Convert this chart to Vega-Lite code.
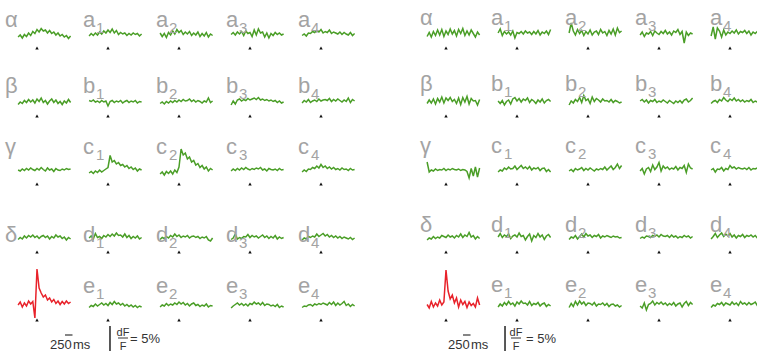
{
"$schema": "https://vega.github.io/schema/vega-lite/v6.json",
"padding": 0,
"autosize": {"type": "pad"},
"config": {"view": {"stroke": null}, "font": "Liberation Sans", "header": {"labels": false, "title": null, "labelPadding": 0, "titlePadding": 0}, "headerRow": {"labels": false, "title": null, "labelPadding": 0}, "headerColumn": {"labels": false, "title": null, "labelPadding": 0}, "headerFacet": {"labels": false, "title": null, "labelPadding": 0}},
"datasets": {
"cells": [
{"k":0,"r":0,"c":0},{"k":1,"r":0,"c":1},{"k":2,"r":0,"c":2},{"k":3,"r":0,"c":3},{"k":4,"r":0,"c":4},
{"k":5,"r":1,"c":0},{"k":6,"r":1,"c":1},{"k":7,"r":1,"c":2},{"k":8,"r":1,"c":3},{"k":9,"r":1,"c":4},
{"k":10,"r":2,"c":0},{"k":11,"r":2,"c":1},{"k":12,"r":2,"c":2},{"k":13,"r":2,"c":3},{"k":14,"r":2,"c":4},
{"k":15,"r":3,"c":0},{"k":16,"r":3,"c":1},{"k":17,"r":3,"c":2},{"k":18,"r":3,"c":3},{"k":19,"r":3,"c":4},
{"k":20,"r":4,"c":0},{"k":21,"r":4,"c":1},{"k":22,"r":4,"c":2},{"k":23,"r":4,"c":3},{"k":24,"r":4,"c":4}
],
"L": [
{"k":0,"lab":"α","sub":"","m":1},{"k":1,"lab":"a","sub":"1","m":1},{"k":2,"lab":"a","sub":"2","m":1},{"k":3,"lab":"a","sub":"3","m":1},{"k":4,"lab":"a","sub":"4","m":1},
{"k":5,"lab":"β","sub":"","m":1},{"k":6,"lab":"b","sub":"1","m":1},{"k":7,"lab":"b","sub":"2","m":1},{"k":8,"lab":"b","sub":"3","m":1},{"k":9,"lab":"b","sub":"4","m":1},
{"k":10,"lab":"γ","sub":"","m":1},{"k":11,"lab":"c","sub":"1","m":1},{"k":12,"lab":"c","sub":"2","m":1},{"k":13,"lab":"c","sub":"3","m":1},{"k":14,"lab":"c","sub":"4","m":1},
{"k":15,"lab":"δ","sub":"","m":1},{"k":16,"lab":"d","sub":"1","m":1},{"k":17,"lab":"d","sub":"2","m":1},{"k":18,"lab":"d","sub":"3","m":1},{"k":19,"lab":"d","sub":"4","m":1},
{"k":20,"lab":"","sub":"","m":1},{"k":21,"lab":"e","sub":"1","m":1},{"k":22,"lab":"e","sub":"2","m":1},{"k":23,"lab":"e","sub":"3","m":1},{"k":24,"lab":"e","sub":"4","m":1},
{"k":0,"t":-630,"v":-0.6},{"k":0,"t":-560,"v":-0.2},{"k":0,"t":-490,"v":-0.8},{"k":0,"t":-420,"v":-0.1},{"k":0,"t":-350,"v":-0.5},{"k":0,"t":-280,"v":0.2},{"k":0,"t":-210,"v":-0.3},{"k":0,"t":-140,"v":0.5},{"k":0,"t":-70,"v":0.1},{"k":0,"t":0,"v":0.9},{"k":0,"t":70,"v":0.4},{"k":0,"t":140,"v":1.1},{"k":0,"t":210,"v":0.6},{"k":0,"t":280,"v":0.8},{"k":0,"t":350,"v":0.2},{"k":0,"t":420,"v":0.7},{"k":0,"t":490,"v":0.1},{"k":0,"t":560,"v":0.4},{"k":0,"t":630,"v":-0.2},{"k":0,"t":700,"v":0.2},{"k":0,"t":770,"v":-0.4},{"k":0,"t":840,"v":-0.1},{"k":0,"t":910,"v":-0.6},{"k":0,"t":980,"v":-0.3},{"k":0,"t":1050,"v":-0.9},{"k":0,"t":1120,"v":-0.4},
{"k":1,"t":-630,"v":-0.4},{"k":1,"t":-560,"v":0.1},{"k":1,"t":-490,"v":-0.3},{"k":1,"t":-420,"v":0.2},{"k":1,"t":-350,"v":-0.2},{"k":1,"t":-280,"v":0.4},{"k":1,"t":-210,"v":0.0},{"k":1,"t":-140,"v":0.6},{"k":1,"t":-70,"v":0.2},{"k":1,"t":0,"v":0.8},{"k":1,"t":70,"v":0.3},{"k":1,"t":140,"v":1.0},{"k":1,"t":210,"v":0.2},{"k":1,"t":280,"v":0.7},{"k":1,"t":350,"v":-0.1},{"k":1,"t":420,"v":0.3},{"k":1,"t":490,"v":0.0},{"k":1,"t":560,"v":0.2},{"k":1,"t":630,"v":-0.3},{"k":1,"t":700,"v":0.1},{"k":1,"t":770,"v":-0.2},{"k":1,"t":840,"v":0.2},{"k":1,"t":910,"v":-0.1},{"k":1,"t":980,"v":0.1},{"k":1,"t":1050,"v":-0.4},{"k":1,"t":1120,"v":0.0},
{"k":2,"t":-630,"v":0.2},{"k":2,"t":-560,"v":-0.5},{"k":2,"t":-490,"v":0.1},{"k":2,"t":-420,"v":-0.7},{"k":2,"t":-350,"v":0.3},{"k":2,"t":-280,"v":-0.2},{"k":2,"t":-210,"v":0.6},{"k":2,"t":-140,"v":0.0},{"k":2,"t":-70,"v":0.9},{"k":2,"t":0,"v":0.3},{"k":2,"t":70,"v":0.7},{"k":2,"t":140,"v":-0.1},{"k":2,"t":210,"v":0.4},{"k":2,"t":280,"v":0.0},{"k":2,"t":350,"v":0.5},{"k":2,"t":420,"v":-0.3},{"k":2,"t":490,"v":0.2},{"k":2,"t":560,"v":-0.2},{"k":2,"t":630,"v":0.4},{"k":2,"t":700,"v":-0.5},{"k":2,"t":770,"v":0.1},{"k":2,"t":840,"v":-0.4},{"k":2,"t":910,"v":0.3},{"k":2,"t":980,"v":-0.6},{"k":2,"t":1050,"v":0.0},{"k":2,"t":1120,"v":-0.3},
{"k":3,"t":-630,"v":-0.1},{"k":3,"t":-560,"v":0.3},{"k":3,"t":-490,"v":-0.2},{"k":3,"t":-420,"v":0.4},{"k":3,"t":-350,"v":0.0},{"k":3,"t":-280,"v":0.5},{"k":3,"t":-210,"v":-0.3},{"k":3,"t":-140,"v":0.6},{"k":3,"t":-70,"v":0.1},{"k":3,"t":0,"v":0.3},{"k":3,"t":70,"v":-0.5},{"k":3,"t":140,"v":0.8},{"k":3,"t":210,"v":-0.2},{"k":3,"t":280,"v":1.0},{"k":3,"t":350,"v":0.2},{"k":3,"t":420,"v":0.4},{"k":3,"t":490,"v":-0.6},{"k":3,"t":560,"v":0.2},{"k":3,"t":630,"v":-0.8},{"k":3,"t":700,"v":0.1},{"k":3,"t":770,"v":-0.3},{"k":3,"t":840,"v":0.3},{"k":3,"t":910,"v":-0.1},{"k":3,"t":980,"v":0.2},{"k":3,"t":1050,"v":-0.2},{"k":3,"t":1120,"v":0.0},
{"k":4,"t":-630,"v":-0.3},{"k":4,"t":-560,"v":0.0},{"k":4,"t":-490,"v":-0.4},{"k":4,"t":-420,"v":0.2},{"k":4,"t":-350,"v":0.1},{"k":4,"t":-280,"v":0.5},{"k":4,"t":-210,"v":0.3},{"k":4,"t":-140,"v":0.7},{"k":4,"t":-70,"v":0.4},{"k":4,"t":0,"v":0.9},{"k":4,"t":70,"v":0.2},{"k":4,"t":140,"v":0.5},{"k":4,"t":210,"v":0.3},{"k":4,"t":280,"v":0.8},{"k":4,"t":350,"v":0.1},{"k":4,"t":420,"v":0.4},{"k":4,"t":490,"v":0.2},{"k":4,"t":560,"v":0.0},{"k":4,"t":630,"v":0.4},{"k":4,"t":700,"v":-0.1},{"k":4,"t":770,"v":0.3},{"k":4,"t":840,"v":0.0},{"k":4,"t":910,"v":-0.2},{"k":4,"t":980,"v":0.3},{"k":4,"t":1050,"v":-0.3},{"k":4,"t":1120,"v":0.1},
{"k":5,"t":-630,"v":-0.5},{"k":5,"t":-560,"v":0.0},{"k":5,"t":-490,"v":-0.3},{"k":5,"t":-420,"v":0.3},{"k":5,"t":-350,"v":-0.1},{"k":5,"t":-280,"v":0.5},{"k":5,"t":-210,"v":0.0},{"k":5,"t":-140,"v":0.4},{"k":5,"t":-70,"v":-0.2},{"k":5,"t":0,"v":0.6},{"k":5,"t":70,"v":0.1},{"k":5,"t":140,"v":0.8},{"k":5,"t":210,"v":-0.1},{"k":5,"t":280,"v":0.3},{"k":5,"t":350,"v":-0.4},{"k":5,"t":420,"v":0.2},{"k":5,"t":490,"v":0.6},{"k":5,"t":560,"v":-0.1},{"k":5,"t":630,"v":0.4},{"k":5,"t":700,"v":-0.3},{"k":5,"t":770,"v":0.1},{"k":5,"t":840,"v":-0.5},{"k":5,"t":910,"v":0.2},{"k":5,"t":980,"v":-0.2},{"k":5,"t":1050,"v":0.5},{"k":5,"t":1120,"v":-0.1},
{"k":6,"t":-630,"v":0.3},{"k":6,"t":-560,"v":0.1},{"k":6,"t":-490,"v":0.4},{"k":6,"t":-420,"v":0.0},{"k":6,"t":-350,"v":0.2},{"k":6,"t":-280,"v":-0.1},{"k":6,"t":-210,"v":0.3},{"k":6,"t":-140,"v":0.0},{"k":6,"t":-70,"v":0.2},{"k":6,"t":0,"v":-0.8},{"k":6,"t":70,"v":0.1},{"k":6,"t":140,"v":0.3},{"k":6,"t":210,"v":-0.1},{"k":6,"t":280,"v":0.2},{"k":6,"t":350,"v":0.0},{"k":6,"t":420,"v":0.3},{"k":6,"t":490,"v":-0.2},{"k":6,"t":560,"v":0.1},{"k":6,"t":630,"v":0.3},{"k":6,"t":700,"v":-0.1},{"k":6,"t":770,"v":0.2},{"k":6,"t":840,"v":0.0},{"k":6,"t":910,"v":0.3},{"k":6,"t":980,"v":-0.2},{"k":6,"t":1050,"v":0.1},{"k":6,"t":1120,"v":0.0},
{"k":7,"t":-630,"v":-0.3},{"k":7,"t":-560,"v":0.0},{"k":7,"t":-490,"v":-0.4},{"k":7,"t":-420,"v":0.1},{"k":7,"t":-350,"v":-0.2},{"k":7,"t":-280,"v":0.2},{"k":7,"t":-210,"v":-0.1},{"k":7,"t":-140,"v":0.3},{"k":7,"t":-70,"v":0.0},{"k":7,"t":0,"v":0.4},{"k":7,"t":70,"v":0.1},{"k":7,"t":140,"v":0.5},{"k":7,"t":210,"v":0.2},{"k":7,"t":280,"v":0.3},{"k":7,"t":350,"v":0.6},{"k":7,"t":420,"v":0.1},{"k":7,"t":490,"v":0.4},{"k":7,"t":560,"v":0.0},{"k":7,"t":630,"v":0.3},{"k":7,"t":700,"v":0.1},{"k":7,"t":770,"v":-0.2},{"k":7,"t":840,"v":0.2},{"k":7,"t":910,"v":0.0},{"k":7,"t":980,"v":0.8},{"k":7,"t":1050,"v":-0.1},{"k":7,"t":1120,"v":0.2},
{"k":8,"t":-630,"v":-0.6},{"k":8,"t":-560,"v":0.2},{"k":8,"t":-490,"v":-0.4},{"k":8,"t":-420,"v":0.4},{"k":8,"t":-350,"v":0.6},{"k":8,"t":-280,"v":0.2},{"k":8,"t":-210,"v":0.5},{"k":8,"t":-140,"v":0.3},{"k":8,"t":-70,"v":0.7},{"k":8,"t":0,"v":0.4},{"k":8,"t":70,"v":0.6},{"k":8,"t":140,"v":0.8},{"k":8,"t":210,"v":0.5},{"k":8,"t":280,"v":0.9},{"k":8,"t":350,"v":0.4},{"k":8,"t":420,"v":0.6},{"k":8,"t":490,"v":0.3},{"k":8,"t":560,"v":0.5},{"k":8,"t":630,"v":0.2},{"k":8,"t":700,"v":0.4},{"k":8,"t":770,"v":0.1},{"k":8,"t":840,"v":0.3},{"k":8,"t":910,"v":-0.1},{"k":8,"t":980,"v":0.2},{"k":8,"t":1050,"v":-0.2},{"k":8,"t":1120,"v":0.0},
{"k":9,"t":-630,"v":-0.2},{"k":9,"t":-560,"v":0.3},{"k":9,"t":-490,"v":0.0},{"k":9,"t":-420,"v":0.5},{"k":9,"t":-350,"v":-0.1},{"k":9,"t":-280,"v":0.2},{"k":9,"t":-210,"v":0.4},{"k":9,"t":-140,"v":0.1},{"k":9,"t":-70,"v":0.6},{"k":9,"t":0,"v":0.2},{"k":9,"t":70,"v":0.4},{"k":9,"t":140,"v":0.5},{"k":9,"t":210,"v":0.3},{"k":9,"t":280,"v":0.7},{"k":9,"t":350,"v":0.1},{"k":9,"t":420,"v":0.5},{"k":9,"t":490,"v":0.2},{"k":9,"t":560,"v":0.6},{"k":9,"t":630,"v":0.3},{"k":9,"t":700,"v":0.0},{"k":9,"t":770,"v":0.4},{"k":9,"t":840,"v":0.1},{"k":9,"t":910,"v":0.8},{"k":9,"t":980,"v":-0.1},{"k":9,"t":1050,"v":0.5},{"k":9,"t":1120,"v":0.2},
{"k":10,"t":-630,"v":0.0},{"k":10,"t":-560,"v":-0.2},{"k":10,"t":-490,"v":0.2},{"k":10,"t":-420,"v":-0.1},{"k":10,"t":-350,"v":0.3},{"k":10,"t":-280,"v":0.0},{"k":10,"t":-210,"v":0.4},{"k":10,"t":-140,"v":0.1},{"k":10,"t":-70,"v":-0.1},{"k":10,"t":0,"v":0.3},{"k":10,"t":70,"v":0.0},{"k":10,"t":140,"v":0.5},{"k":10,"t":210,"v":0.1},{"k":10,"t":280,"v":-0.2},{"k":10,"t":350,"v":0.4},{"k":10,"t":420,"v":0.0},{"k":10,"t":490,"v":0.2},{"k":10,"t":560,"v":-0.3},{"k":10,"t":630,"v":0.3},{"k":10,"t":700,"v":0.0},{"k":10,"t":770,"v":-0.1},{"k":10,"t":840,"v":0.2},{"k":10,"t":910,"v":0.0},{"k":10,"t":980,"v":0.3},{"k":10,"t":1050,"v":0.1},{"k":10,"t":1120,"v":0.2},
{"k":11,"t":-630,"v":-0.6},{"k":11,"t":-560,"v":-0.3},{"k":11,"t":-490,"v":-0.7},{"k":11,"t":-420,"v":-0.2},{"k":11,"t":-350,"v":-0.5},{"k":11,"t":-280,"v":0.0},{"k":11,"t":-210,"v":-0.4},{"k":11,"t":-140,"v":-0.1},{"k":11,"t":-70,"v":0.2},{"k":11,"t":0,"v":0.5},{"k":11,"t":70,"v":2.9},{"k":11,"t":140,"v":1.6},{"k":11,"t":210,"v":1.9},{"k":11,"t":280,"v":1.2},{"k":11,"t":350,"v":1.5},{"k":11,"t":420,"v":0.9},{"k":11,"t":490,"v":1.1},{"k":11,"t":560,"v":0.6},{"k":11,"t":630,"v":0.9},{"k":11,"t":700,"v":0.3},{"k":11,"t":770,"v":0.6},{"k":11,"t":840,"v":0.1},{"k":11,"t":910,"v":0.4},{"k":11,"t":980,"v":-0.2},{"k":11,"t":1050,"v":0.2},{"k":11,"t":1120,"v":0.0},
{"k":12,"t":-630,"v":-0.8},{"k":12,"t":-560,"v":-0.4},{"k":12,"t":-490,"v":-1.0},{"k":12,"t":-420,"v":-0.3},{"k":12,"t":-350,"v":-0.7},{"k":12,"t":-280,"v":-0.2},{"k":12,"t":-210,"v":-0.8},{"k":12,"t":-140,"v":0.0},{"k":12,"t":-70,"v":-0.5},{"k":12,"t":0,"v":0.6},{"k":12,"t":70,"v":4.2},{"k":12,"t":140,"v":3.0},{"k":12,"t":210,"v":3.4},{"k":12,"t":280,"v":2.2},{"k":12,"t":350,"v":2.6},{"k":12,"t":420,"v":1.6},{"k":12,"t":490,"v":1.9},{"k":12,"t":560,"v":1.0},{"k":12,"t":630,"v":1.3},{"k":12,"t":700,"v":0.5},{"k":12,"t":770,"v":0.9},{"k":12,"t":840,"v":0.2},{"k":12,"t":910,"v":0.6},{"k":12,"t":980,"v":-0.2},{"k":12,"t":1050,"v":0.3},{"k":12,"t":1120,"v":0.0},
{"k":13,"t":-630,"v":-0.2},{"k":13,"t":-560,"v":0.2},{"k":13,"t":-490,"v":-0.1},{"k":13,"t":-420,"v":0.3},{"k":13,"t":-350,"v":0.0},{"k":13,"t":-280,"v":0.4},{"k":13,"t":-210,"v":0.1},{"k":13,"t":-140,"v":0.5},{"k":13,"t":-70,"v":0.2},{"k":13,"t":0,"v":0.0},{"k":13,"t":70,"v":0.3},{"k":13,"t":140,"v":0.1},{"k":13,"t":210,"v":0.4},{"k":13,"t":280,"v":0.2},{"k":13,"t":350,"v":0.5},{"k":13,"t":420,"v":0.0},{"k":13,"t":490,"v":0.2},{"k":13,"t":560,"v":-0.2},{"k":13,"t":630,"v":0.3},{"k":13,"t":700,"v":0.1},{"k":13,"t":770,"v":0.0},{"k":13,"t":840,"v":0.2},{"k":13,"t":910,"v":-0.1},{"k":13,"t":980,"v":0.3},{"k":13,"t":1050,"v":0.0},{"k":13,"t":1120,"v":0.1},
{"k":14,"t":-630,"v":-0.4},{"k":14,"t":-560,"v":0.0},{"k":14,"t":-490,"v":-0.3},{"k":14,"t":-420,"v":0.2},{"k":14,"t":-350,"v":0.1},{"k":14,"t":-280,"v":0.5},{"k":14,"t":-210,"v":0.3},{"k":14,"t":-140,"v":0.8},{"k":14,"t":-70,"v":0.4},{"k":14,"t":0,"v":1.1},{"k":14,"t":70,"v":0.5},{"k":14,"t":140,"v":0.8},{"k":14,"t":210,"v":0.3},{"k":14,"t":280,"v":0.6},{"k":14,"t":350,"v":0.2},{"k":14,"t":420,"v":0.5},{"k":14,"t":490,"v":0.1},{"k":14,"t":560,"v":0.3},{"k":14,"t":630,"v":0.0},{"k":14,"t":700,"v":0.4},{"k":14,"t":770,"v":0.1},{"k":14,"t":840,"v":0.2},{"k":14,"t":910,"v":-0.1},{"k":14,"t":980,"v":0.3},{"k":14,"t":1050,"v":0.0},{"k":14,"t":1120,"v":0.1},
{"k":15,"t":-630,"v":-0.3},{"k":15,"t":-560,"v":0.1},{"k":15,"t":-490,"v":-0.2},{"k":15,"t":-420,"v":0.4},{"k":15,"t":-350,"v":0.0},{"k":15,"t":-280,"v":0.5},{"k":15,"t":-210,"v":0.2},{"k":15,"t":-140,"v":0.6},{"k":15,"t":-70,"v":0.1},{"k":15,"t":0,"v":0.4},{"k":15,"t":70,"v":-0.1},{"k":15,"t":140,"v":0.3},{"k":15,"t":210,"v":0.5},{"k":15,"t":280,"v":0.1},{"k":15,"t":350,"v":0.4},{"k":15,"t":420,"v":-0.2},{"k":15,"t":490,"v":0.3},{"k":15,"t":560,"v":0.0},{"k":15,"t":630,"v":0.6},{"k":15,"t":700,"v":0.2},{"k":15,"t":770,"v":0.4},{"k":15,"t":840,"v":-0.1},{"k":15,"t":910,"v":0.2},{"k":15,"t":980,"v":-0.4},{"k":15,"t":1050,"v":0.1},{"k":15,"t":1120,"v":-0.2},
{"k":16,"t":-630,"v":0.0},{"k":16,"t":-560,"v":0.4},{"k":16,"t":-490,"v":-0.2},{"k":16,"t":-420,"v":0.9},{"k":16,"t":-350,"v":0.1},{"k":16,"t":-280,"v":0.3},{"k":16,"t":-210,"v":-0.1},{"k":16,"t":-140,"v":0.5},{"k":16,"t":-70,"v":0.2},{"k":16,"t":0,"v":0.7},{"k":16,"t":70,"v":0.3},{"k":16,"t":140,"v":0.8},{"k":16,"t":210,"v":0.4},{"k":16,"t":280,"v":1.0},{"k":16,"t":350,"v":0.5},{"k":16,"t":420,"v":0.6},{"k":16,"t":490,"v":0.2},{"k":16,"t":560,"v":0.8},{"k":16,"t":630,"v":0.1},{"k":16,"t":700,"v":0.5},{"k":16,"t":770,"v":-0.1},{"k":16,"t":840,"v":0.3},{"k":16,"t":910,"v":0.0},{"k":16,"t":980,"v":0.4},{"k":16,"t":1050,"v":-0.2},{"k":16,"t":1120,"v":0.1},
{"k":17,"t":-630,"v":-0.3},{"k":17,"t":-560,"v":0.1},{"k":17,"t":-490,"v":-0.1},{"k":17,"t":-420,"v":0.3},{"k":17,"t":-350,"v":0.0},{"k":17,"t":-280,"v":0.5},{"k":17,"t":-210,"v":0.2},{"k":17,"t":-140,"v":0.8},{"k":17,"t":-70,"v":0.3},{"k":17,"t":0,"v":0.6},{"k":17,"t":70,"v":0.1},{"k":17,"t":140,"v":0.4},{"k":17,"t":210,"v":0.2},{"k":17,"t":280,"v":0.5},{"k":17,"t":350,"v":0.0},{"k":17,"t":420,"v":0.3},{"k":17,"t":490,"v":0.4},{"k":17,"t":560,"v":0.1},{"k":17,"t":630,"v":0.3},{"k":17,"t":700,"v":-0.1},{"k":17,"t":770,"v":0.2},{"k":17,"t":840,"v":0.0},{"k":17,"t":910,"v":0.3},{"k":17,"t":980,"v":-0.4},{"k":17,"t":1050,"v":-0.6},{"k":17,"t":1120,"v":0.0},
{"k":18,"t":-630,"v":-0.3},{"k":18,"t":-560,"v":0.0},{"k":18,"t":-490,"v":0.8},{"k":18,"t":-420,"v":-0.2},{"k":18,"t":-350,"v":0.1},{"k":18,"t":-280,"v":-0.1},{"k":18,"t":-210,"v":0.3},{"k":18,"t":-140,"v":0.2},{"k":18,"t":-70,"v":0.7},{"k":18,"t":0,"v":0.1},{"k":18,"t":70,"v":0.5},{"k":18,"t":140,"v":0.2},{"k":18,"t":210,"v":0.4},{"k":18,"t":280,"v":0.0},{"k":18,"t":350,"v":0.3},{"k":18,"t":420,"v":0.6},{"k":18,"t":490,"v":0.1},{"k":18,"t":560,"v":0.4},{"k":18,"t":630,"v":-0.1},{"k":18,"t":700,"v":0.3},{"k":18,"t":770,"v":0.0},{"k":18,"t":840,"v":0.5},{"k":18,"t":910,"v":-0.2},{"k":18,"t":980,"v":0.2},{"k":18,"t":1050,"v":-0.1},{"k":18,"t":1120,"v":0.1},
{"k":19,"t":-630,"v":-0.4},{"k":19,"t":-560,"v":0.0},{"k":19,"t":-490,"v":-0.2},{"k":19,"t":-420,"v":0.3},{"k":19,"t":-350,"v":0.1},{"k":19,"t":-280,"v":0.4},{"k":19,"t":-210,"v":0.2},{"k":19,"t":-140,"v":0.8},{"k":19,"t":-70,"v":0.3},{"k":19,"t":0,"v":0.6},{"k":19,"t":70,"v":0.9},{"k":19,"t":140,"v":0.4},{"k":19,"t":210,"v":0.7},{"k":19,"t":280,"v":0.2},{"k":19,"t":350,"v":0.5},{"k":19,"t":420,"v":0.1},{"k":19,"t":490,"v":0.4},{"k":19,"t":560,"v":0.0},{"k":19,"t":630,"v":0.3},{"k":19,"t":700,"v":-0.1},{"k":19,"t":770,"v":0.2},{"k":19,"t":840,"v":0.0},{"k":19,"t":910,"v":-0.2},{"k":19,"t":980,"v":0.1},{"k":19,"t":1050,"v":-0.3},{"k":19,"t":1120,"v":0.0},
{"k":20,"t":-630,"v":0.2},{"k":20,"t":-560,"v":0.8},{"k":20,"t":-490,"v":-0.2},{"k":20,"t":-420,"v":0.6},{"k":20,"t":-350,"v":0.0},{"k":20,"t":-280,"v":1.0},{"k":20,"t":-210,"v":0.4},{"k":20,"t":-140,"v":0.9},{"k":20,"t":-70,"v":-2.4},{"k":20,"t":0,"v":7.4},{"k":20,"t":70,"v":3.6},{"k":20,"t":140,"v":2.6},{"k":20,"t":210,"v":1.8},{"k":20,"t":280,"v":2.2},{"k":20,"t":350,"v":1.2},{"k":20,"t":420,"v":1.6},{"k":20,"t":490,"v":0.8},{"k":20,"t":560,"v":1.3},{"k":20,"t":630,"v":0.5},{"k":20,"t":700,"v":1.0},{"k":20,"t":770,"v":0.3},{"k":20,"t":840,"v":0.9},{"k":20,"t":910,"v":0.4},{"k":20,"t":980,"v":1.0},{"k":20,"t":1050,"v":0.5},{"k":20,"t":1120,"v":0.8},
{"k":21,"t":-630,"v":-0.3},{"k":21,"t":-560,"v":0.1},{"k":21,"t":-490,"v":-0.1},{"k":21,"t":-420,"v":0.4},{"k":21,"t":-350,"v":0.0},{"k":21,"t":-280,"v":0.3},{"k":21,"t":-210,"v":0.6},{"k":21,"t":-140,"v":0.2},{"k":21,"t":-70,"v":0.5},{"k":21,"t":0,"v":0.1},{"k":21,"t":70,"v":0.7},{"k":21,"t":140,"v":0.3},{"k":21,"t":210,"v":0.9},{"k":21,"t":280,"v":0.4},{"k":21,"t":350,"v":0.6},{"k":21,"t":420,"v":0.2},{"k":21,"t":490,"v":0.5},{"k":21,"t":560,"v":0.0},{"k":21,"t":630,"v":0.3},{"k":21,"t":700,"v":-0.1},{"k":21,"t":770,"v":0.2},{"k":21,"t":840,"v":-0.2},{"k":21,"t":910,"v":0.1},{"k":21,"t":980,"v":-0.3},{"k":21,"t":1050,"v":0.0},{"k":21,"t":1120,"v":-0.2},
{"k":22,"t":-630,"v":-0.2},{"k":22,"t":-560,"v":0.2},{"k":22,"t":-490,"v":0.0},{"k":22,"t":-420,"v":0.5},{"k":22,"t":-350,"v":0.1},{"k":22,"t":-280,"v":0.4},{"k":22,"t":-210,"v":0.2},{"k":22,"t":-140,"v":0.6},{"k":22,"t":-70,"v":0.3},{"k":22,"t":0,"v":0.8},{"k":22,"t":70,"v":0.4},{"k":22,"t":140,"v":0.7},{"k":22,"t":210,"v":0.2},{"k":22,"t":280,"v":0.5},{"k":22,"t":350,"v":0.0},{"k":22,"t":420,"v":0.4},{"k":22,"t":490,"v":0.6},{"k":22,"t":560,"v":0.1},{"k":22,"t":630,"v":0.3},{"k":22,"t":700,"v":-0.1},{"k":22,"t":770,"v":0.2},{"k":22,"t":840,"v":0.0},{"k":22,"t":910,"v":0.4},{"k":22,"t":980,"v":-0.2},{"k":22,"t":1050,"v":0.1},{"k":22,"t":1120,"v":0.0},
{"k":23,"t":-630,"v":-0.4},{"k":23,"t":-560,"v":0.0},{"k":23,"t":-490,"v":0.3},{"k":23,"t":-420,"v":0.6},{"k":23,"t":-350,"v":0.2},{"k":23,"t":-280,"v":0.5},{"k":23,"t":-210,"v":0.1},{"k":23,"t":-140,"v":0.4},{"k":23,"t":-70,"v":0.0},{"k":23,"t":0,"v":0.5},{"k":23,"t":70,"v":0.3},{"k":23,"t":140,"v":0.8},{"k":23,"t":210,"v":0.4},{"k":23,"t":280,"v":0.6},{"k":23,"t":350,"v":0.2},{"k":23,"t":420,"v":0.7},{"k":23,"t":490,"v":0.1},{"k":23,"t":560,"v":0.4},{"k":23,"t":630,"v":0.3},{"k":23,"t":700,"v":0.0},{"k":23,"t":770,"v":0.2},{"k":23,"t":840,"v":-0.1},{"k":23,"t":910,"v":0.3},{"k":23,"t":980,"v":-0.3},{"k":23,"t":1050,"v":0.0},{"k":23,"t":1120,"v":-0.2},
{"k":24,"t":-630,"v":-0.3},{"k":24,"t":-560,"v":0.0},{"k":24,"t":-490,"v":-0.1},{"k":24,"t":-420,"v":0.2},{"k":24,"t":-350,"v":0.3},{"k":24,"t":-280,"v":0.0},{"k":24,"t":-210,"v":0.4},{"k":24,"t":-140,"v":0.2},{"k":24,"t":-70,"v":0.5},{"k":24,"t":0,"v":0.3},{"k":24,"t":70,"v":0.6},{"k":24,"t":140,"v":0.4},{"k":24,"t":210,"v":0.2},{"k":24,"t":280,"v":0.7},{"k":24,"t":350,"v":0.3},{"k":24,"t":420,"v":0.8},{"k":24,"t":490,"v":0.1},{"k":24,"t":560,"v":0.6},{"k":24,"t":630,"v":0.2},{"k":24,"t":700,"v":0.5},{"k":24,"t":770,"v":0.9},{"k":24,"t":840,"v":0.1},{"k":24,"t":910,"v":0.4},{"k":24,"t":980,"v":-0.1},{"k":24,"t":1050,"v":0.3},{"k":24,"t":1120,"v":0.0}
],
"R": [
{"k":0,"lab":"α","sub":"","m":1},{"k":1,"lab":"a","sub":"1","m":1},{"k":2,"lab":"a","sub":"2","m":1},{"k":3,"lab":"a","sub":"3","m":1},{"k":4,"lab":"a","sub":"4","m":1},
{"k":5,"lab":"β","sub":"","m":1},{"k":6,"lab":"b","sub":"1","m":1},{"k":7,"lab":"b","sub":"2","m":1},{"k":8,"lab":"b","sub":"3","m":1},{"k":9,"lab":"b","sub":"4","m":1},
{"k":10,"lab":"γ","sub":"","m":1},{"k":11,"lab":"c","sub":"1","m":1},{"k":12,"lab":"c","sub":"2","m":1},{"k":13,"lab":"c","sub":"3","m":1},{"k":14,"lab":"c","sub":"4","m":1},
{"k":15,"lab":"δ","sub":"","m":1},{"k":16,"lab":"d","sub":"1","m":1},{"k":17,"lab":"d","sub":"2","m":1},{"k":18,"lab":"d","sub":"3","m":1},{"k":19,"lab":"d","sub":"4","m":1},
{"k":20,"lab":"","sub":"","m":1},{"k":21,"lab":"e","sub":"1","m":1},{"k":22,"lab":"e","sub":"2","m":1},{"k":23,"lab":"e","sub":"3","m":1},{"k":24,"lab":"e","sub":"4","m":1},
{"k":0,"t":-630,"v":-0.5},{"k":0,"t":-560,"v":0.3},{"k":0,"t":-490,"v":-0.6},{"k":0,"t":-420,"v":0.5},{"k":0,"t":-350,"v":-0.3},{"k":0,"t":-280,"v":0.8},{"k":0,"t":-210,"v":-0.2},{"k":0,"t":-140,"v":0.9},{"k":0,"t":-70,"v":-0.5},{"k":0,"t":0,"v":0.6},{"k":0,"t":70,"v":-0.1},{"k":0,"t":140,"v":1.0},{"k":0,"t":210,"v":0.0},{"k":0,"t":280,"v":0.7},{"k":0,"t":350,"v":-0.4},{"k":0,"t":420,"v":0.9},{"k":0,"t":490,"v":0.1},{"k":0,"t":560,"v":1.1},{"k":0,"t":630,"v":-0.3},{"k":0,"t":700,"v":0.6},{"k":0,"t":770,"v":-0.2},{"k":0,"t":840,"v":0.8},{"k":0,"t":910,"v":0.1},{"k":0,"t":980,"v":-0.6},{"k":0,"t":1050,"v":0.4},{"k":0,"t":1120,"v":-0.2},
{"k":1,"t":-630,"v":0.2},{"k":1,"t":-560,"v":1.0},{"k":1,"t":-490,"v":-0.3},{"k":1,"t":-420,"v":0.5},{"k":1,"t":-350,"v":0.0},{"k":1,"t":-280,"v":0.4},{"k":1,"t":-210,"v":-0.2},{"k":1,"t":-140,"v":0.6},{"k":1,"t":-70,"v":-0.8},{"k":1,"t":0,"v":0.3},{"k":1,"t":70,"v":0.1},{"k":1,"t":140,"v":0.5},{"k":1,"t":210,"v":0.0},{"k":1,"t":280,"v":0.6},{"k":1,"t":350,"v":0.2},{"k":1,"t":420,"v":0.4},{"k":1,"t":490,"v":-0.1},{"k":1,"t":560,"v":0.5},{"k":1,"t":630,"v":0.0},{"k":1,"t":700,"v":0.7},{"k":1,"t":770,"v":-0.2},{"k":1,"t":840,"v":0.4},{"k":1,"t":910,"v":0.1},{"k":1,"t":980,"v":0.6},{"k":1,"t":1050,"v":-0.1},{"k":1,"t":1120,"v":0.9},
{"k":2,"t":-630,"v":0.2},{"k":2,"t":-560,"v":2.2},{"k":2,"t":-490,"v":0.6},{"k":2,"t":-420,"v":-0.2},{"k":2,"t":-350,"v":0.9},{"k":2,"t":-280,"v":0.1},{"k":2,"t":-210,"v":0.7},{"k":2,"t":-140,"v":-0.3},{"k":2,"t":-70,"v":0.5},{"k":2,"t":0,"v":0.0},{"k":2,"t":70,"v":0.8},{"k":2,"t":140,"v":-0.2},{"k":2,"t":210,"v":0.4},{"k":2,"t":280,"v":0.6},{"k":2,"t":350,"v":-0.1},{"k":2,"t":420,"v":0.9},{"k":2,"t":490,"v":0.2},{"k":2,"t":560,"v":0.5},{"k":2,"t":630,"v":-0.3},{"k":2,"t":700,"v":0.7},{"k":2,"t":770,"v":0.0},{"k":2,"t":840,"v":1.0},{"k":2,"t":910,"v":-0.2},{"k":2,"t":980,"v":1.2},{"k":2,"t":1050,"v":0.3},{"k":2,"t":1120,"v":0.6},
{"k":3,"t":-630,"v":-0.2},{"k":3,"t":-560,"v":0.4},{"k":3,"t":-490,"v":-0.5},{"k":3,"t":-420,"v":0.2},{"k":3,"t":-350,"v":0.0},{"k":3,"t":-280,"v":0.5},{"k":3,"t":-210,"v":-0.3},{"k":3,"t":-140,"v":0.6},{"k":3,"t":-70,"v":0.2},{"k":3,"t":0,"v":-0.1},{"k":3,"t":70,"v":0.5},{"k":3,"t":140,"v":0.1},{"k":3,"t":210,"v":0.7},{"k":3,"t":280,"v":0.0},{"k":3,"t":350,"v":0.4},{"k":3,"t":420,"v":-0.2},{"k":3,"t":490,"v":0.6},{"k":3,"t":560,"v":0.3},{"k":3,"t":630,"v":0.9},{"k":3,"t":700,"v":-0.1},{"k":3,"t":770,"v":0.5},{"k":3,"t":840,"v":-1.8},{"k":3,"t":910,"v":0.4},{"k":3,"t":980,"v":-0.3},{"k":3,"t":1050,"v":0.2},{"k":3,"t":1120,"v":0.0},
{"k":4,"t":-630,"v":-0.4},{"k":4,"t":-560,"v":1.4},{"k":4,"t":-490,"v":-1.0},{"k":4,"t":-420,"v":1.2},{"k":4,"t":-350,"v":0.6},{"k":4,"t":-280,"v":-0.6},{"k":4,"t":-210,"v":0.8},{"k":4,"t":-140,"v":-0.2},{"k":4,"t":-70,"v":0.4},{"k":4,"t":0,"v":0.1},{"k":4,"t":70,"v":0.6},{"k":4,"t":140,"v":0.2},{"k":4,"t":210,"v":0.8},{"k":4,"t":280,"v":0.0},{"k":4,"t":350,"v":0.5},{"k":4,"t":420,"v":0.3},{"k":4,"t":490,"v":0.7},{"k":4,"t":560,"v":0.1},{"k":4,"t":630,"v":0.6},{"k":4,"t":700,"v":-0.2},{"k":4,"t":770,"v":0.4},{"k":4,"t":840,"v":0.1},{"k":4,"t":910,"v":0.5},{"k":4,"t":980,"v":-0.1},{"k":4,"t":1050,"v":0.3},{"k":4,"t":1120,"v":0.0},
{"k":5,"t":-630,"v":-0.3},{"k":5,"t":-560,"v":0.4},{"k":5,"t":-490,"v":-0.2},{"k":5,"t":-420,"v":0.6},{"k":5,"t":-350,"v":-0.4},{"k":5,"t":-280,"v":0.7},{"k":5,"t":-210,"v":0.0},{"k":5,"t":-140,"v":1.0},{"k":5,"t":-70,"v":-0.2},{"k":5,"t":0,"v":0.8},{"k":5,"t":70,"v":0.3},{"k":5,"t":140,"v":0.9},{"k":5,"t":210,"v":0.1},{"k":5,"t":280,"v":0.5},{"k":5,"t":350,"v":-0.3},{"k":5,"t":420,"v":0.8},{"k":5,"t":490,"v":-0.5},{"k":5,"t":560,"v":0.9},{"k":5,"t":630,"v":0.0},{"k":5,"t":700,"v":1.1},{"k":5,"t":770,"v":-0.4},{"k":5,"t":840,"v":0.7},{"k":5,"t":910,"v":0.2},{"k":5,"t":980,"v":0.3},{"k":5,"t":1050,"v":-0.6},{"k":5,"t":1120,"v":0.5},
{"k":6,"t":-630,"v":0.2},{"k":6,"t":-560,"v":-0.3},{"k":6,"t":-490,"v":0.3},{"k":6,"t":-420,"v":-0.6},{"k":6,"t":-350,"v":0.1},{"k":6,"t":-280,"v":0.4},{"k":6,"t":-210,"v":-0.4},{"k":6,"t":-140,"v":0.6},{"k":6,"t":-70,"v":0.9},{"k":6,"t":0,"v":0.2},{"k":6,"t":70,"v":0.7},{"k":6,"t":140,"v":0.0},{"k":6,"t":210,"v":0.6},{"k":6,"t":280,"v":0.3},{"k":6,"t":350,"v":0.8},{"k":6,"t":420,"v":-0.1},{"k":6,"t":490,"v":0.5},{"k":6,"t":560,"v":0.2},{"k":6,"t":630,"v":-0.3},{"k":6,"t":700,"v":0.4},{"k":6,"t":770,"v":0.0},{"k":6,"t":840,"v":0.6},{"k":6,"t":910,"v":-0.2},{"k":6,"t":980,"v":0.3},{"k":6,"t":1050,"v":0.5},{"k":6,"t":1120,"v":0.1},
{"k":7,"t":-630,"v":-0.6},{"k":7,"t":-560,"v":0.2},{"k":7,"t":-490,"v":-0.2},{"k":7,"t":-420,"v":0.5},{"k":7,"t":-350,"v":0.1},{"k":7,"t":-280,"v":0.9},{"k":7,"t":-210,"v":-0.1},{"k":7,"t":-140,"v":1.3},{"k":7,"t":-70,"v":0.3},{"k":7,"t":0,"v":0.6},{"k":7,"t":70,"v":-0.3},{"k":7,"t":140,"v":1.0},{"k":7,"t":210,"v":0.1},{"k":7,"t":280,"v":0.7},{"k":7,"t":350,"v":0.4},{"k":7,"t":420,"v":0.0},{"k":7,"t":490,"v":0.6},{"k":7,"t":560,"v":0.2},{"k":7,"t":630,"v":0.3},{"k":7,"t":700,"v":0.0},{"k":7,"t":770,"v":0.5},{"k":7,"t":840,"v":-0.1},{"k":7,"t":910,"v":0.3},{"k":7,"t":980,"v":0.1},{"k":7,"t":1050,"v":-0.2},{"k":7,"t":1120,"v":0.0},
{"k":8,"t":-630,"v":0.2},{"k":8,"t":-560,"v":0.5},{"k":8,"t":-490,"v":0.0},{"k":8,"t":-420,"v":0.4},{"k":8,"t":-350,"v":-0.2},{"k":8,"t":-280,"v":0.3},{"k":8,"t":-210,"v":0.1},{"k":8,"t":-140,"v":0.5},{"k":8,"t":-70,"v":-0.1},{"k":8,"t":0,"v":0.2},{"k":8,"t":70,"v":0.0},{"k":8,"t":140,"v":0.4},{"k":8,"t":210,"v":0.1},{"k":8,"t":280,"v":-0.2},{"k":8,"t":350,"v":0.3},{"k":8,"t":420,"v":0.0},{"k":8,"t":490,"v":-0.3},{"k":8,"t":560,"v":0.2},{"k":8,"t":630,"v":-0.1},{"k":8,"t":700,"v":0.3},{"k":8,"t":770,"v":-0.2},{"k":8,"t":840,"v":0.4},{"k":8,"t":910,"v":0.6},{"k":8,"t":980,"v":0.0},{"k":8,"t":1050,"v":0.3},{"k":8,"t":1120,"v":0.8},
{"k":9,"t":-630,"v":-0.3},{"k":9,"t":-560,"v":0.1},{"k":9,"t":-490,"v":0.3},{"k":9,"t":-420,"v":-0.1},{"k":9,"t":-350,"v":0.5},{"k":9,"t":-280,"v":0.2},{"k":9,"t":-210,"v":0.9},{"k":9,"t":-140,"v":0.4},{"k":9,"t":-70,"v":0.1},{"k":9,"t":0,"v":0.6},{"k":9,"t":70,"v":0.3},{"k":9,"t":140,"v":0.8},{"k":9,"t":210,"v":0.2},{"k":9,"t":280,"v":0.5},{"k":9,"t":350,"v":0.1},{"k":9,"t":420,"v":0.4},{"k":9,"t":490,"v":0.0},{"k":9,"t":560,"v":0.3},{"k":9,"t":630,"v":0.1},{"k":9,"t":700,"v":0.5},{"k":9,"t":770,"v":-0.1},{"k":9,"t":840,"v":0.2},{"k":9,"t":910,"v":0.0},{"k":9,"t":980,"v":0.4},{"k":9,"t":1050,"v":-0.2},{"k":9,"t":1120,"v":0.1},
{"k":10,"t":-630,"v":1.6},{"k":10,"t":-560,"v":-0.4},{"k":10,"t":-490,"v":0.0},{"k":10,"t":-420,"v":-0.2},{"k":10,"t":-350,"v":0.2},{"k":10,"t":-280,"v":-0.1},{"k":10,"t":-210,"v":0.1},{"k":10,"t":-140,"v":0.0},{"k":10,"t":-70,"v":0.3},{"k":10,"t":0,"v":-0.1},{"k":10,"t":70,"v":0.2},{"k":10,"t":140,"v":0.0},{"k":10,"t":210,"v":0.3},{"k":10,"t":280,"v":0.1},{"k":10,"t":350,"v":0.0},{"k":10,"t":420,"v":0.2},{"k":10,"t":490,"v":-0.1},{"k":10,"t":560,"v":0.1},{"k":10,"t":630,"v":0.0},{"k":10,"t":700,"v":-0.3},{"k":10,"t":770,"v":-1.6},{"k":10,"t":840,"v":0.3},{"k":10,"t":910,"v":-1.2},{"k":10,"t":980,"v":0.6},{"k":10,"t":1050,"v":-1.4},{"k":10,"t":1120,"v":0.4},
{"k":11,"t":-630,"v":-0.4},{"k":11,"t":-560,"v":0.0},{"k":11,"t":-490,"v":-0.2},{"k":11,"t":-420,"v":0.4},{"k":11,"t":-350,"v":0.1},{"k":11,"t":-280,"v":0.6},{"k":11,"t":-210,"v":0.2},{"k":11,"t":-140,"v":0.3},{"k":11,"t":-70,"v":0.8},{"k":11,"t":0,"v":0.1},{"k":11,"t":70,"v":0.5},{"k":11,"t":140,"v":0.9},{"k":11,"t":210,"v":0.3},{"k":11,"t":280,"v":0.6},{"k":11,"t":350,"v":0.2},{"k":11,"t":420,"v":0.7},{"k":11,"t":490,"v":0.0},{"k":11,"t":560,"v":0.4},{"k":11,"t":630,"v":0.2},{"k":11,"t":700,"v":0.5},{"k":11,"t":770,"v":-0.1},{"k":11,"t":840,"v":0.3},{"k":11,"t":910,"v":0.4},{"k":11,"t":980,"v":-0.3},{"k":11,"t":1050,"v":0.1},{"k":11,"t":1120,"v":-0.4},
{"k":12,"t":-630,"v":-0.2},{"k":12,"t":-560,"v":0.1},{"k":12,"t":-490,"v":-0.3},{"k":12,"t":-420,"v":0.3},{"k":12,"t":-350,"v":0.0},{"k":12,"t":-280,"v":0.2},{"k":12,"t":-210,"v":0.5},{"k":12,"t":-140,"v":-0.1},{"k":12,"t":-70,"v":0.3},{"k":12,"t":0,"v":0.0},{"k":12,"t":70,"v":0.4},{"k":12,"t":140,"v":0.1},{"k":12,"t":210,"v":-0.2},{"k":12,"t":280,"v":0.2},{"k":12,"t":350,"v":0.0},{"k":12,"t":420,"v":0.3},{"k":12,"t":490,"v":0.1},{"k":12,"t":560,"v":0.6},{"k":12,"t":630,"v":0.0},{"k":12,"t":700,"v":0.4},{"k":12,"t":770,"v":0.8},{"k":12,"t":840,"v":0.1},{"k":12,"t":910,"v":0.5},{"k":12,"t":980,"v":1.2},{"k":12,"t":1050,"v":0.3},{"k":12,"t":1120,"v":0.9},
{"k":13,"t":-630,"v":-0.2},{"k":13,"t":-560,"v":0.3},{"k":13,"t":-490,"v":-0.8},{"k":13,"t":-420,"v":0.2},{"k":13,"t":-350,"v":0.5},{"k":13,"t":-280,"v":-0.3},{"k":13,"t":-210,"v":1.0},{"k":13,"t":-140,"v":0.1},{"k":13,"t":-70,"v":0.6},{"k":13,"t":0,"v":1.5},{"k":13,"t":70,"v":-0.2},{"k":13,"t":140,"v":0.8},{"k":13,"t":210,"v":0.3},{"k":13,"t":280,"v":0.6},{"k":13,"t":350,"v":0.1},{"k":13,"t":420,"v":0.4},{"k":13,"t":490,"v":0.2},{"k":13,"t":560,"v":0.7},{"k":13,"t":630,"v":0.0},{"k":13,"t":700,"v":0.5},{"k":13,"t":770,"v":0.3},{"k":13,"t":840,"v":0.9},{"k":13,"t":910,"v":-0.5},{"k":13,"t":980,"v":1.2},{"k":13,"t":1050,"v":0.4},{"k":13,"t":1120,"v":0.2},
{"k":14,"t":-630,"v":0.0},{"k":14,"t":-560,"v":0.3},{"k":14,"t":-490,"v":-0.4},{"k":14,"t":-420,"v":0.2},{"k":14,"t":-350,"v":0.1},{"k":14,"t":-280,"v":0.5},{"k":14,"t":-210,"v":-0.2},{"k":14,"t":-140,"v":0.3},{"k":14,"t":-70,"v":0.1},{"k":14,"t":0,"v":0.9},{"k":14,"t":70,"v":0.4},{"k":14,"t":140,"v":0.6},{"k":14,"t":210,"v":0.2},{"k":14,"t":280,"v":0.5},{"k":14,"t":350,"v":0.3},{"k":14,"t":420,"v":0.2},{"k":14,"t":490,"v":0.4},{"k":14,"t":560,"v":0.1},{"k":14,"t":630,"v":0.5},{"k":14,"t":700,"v":0.0},{"k":14,"t":770,"v":0.3},{"k":14,"t":840,"v":0.2},{"k":14,"t":910,"v":0.4},{"k":14,"t":980,"v":-0.1},{"k":14,"t":1050,"v":0.2},{"k":14,"t":1120,"v":0.0},
{"k":15,"t":-630,"v":-0.4},{"k":15,"t":-560,"v":0.0},{"k":15,"t":-490,"v":-0.2},{"k":15,"t":-420,"v":0.3},{"k":15,"t":-350,"v":-0.1},{"k":15,"t":-280,"v":0.2},{"k":15,"t":-210,"v":0.0},{"k":15,"t":-140,"v":0.5},{"k":15,"t":-70,"v":0.3},{"k":15,"t":0,"v":0.1},{"k":15,"t":70,"v":0.6},{"k":15,"t":140,"v":0.2},{"k":15,"t":210,"v":0.4},{"k":15,"t":280,"v":0.0},{"k":15,"t":350,"v":0.5},{"k":15,"t":420,"v":0.2},{"k":15,"t":490,"v":0.8},{"k":15,"t":560,"v":0.1},{"k":15,"t":630,"v":0.6},{"k":15,"t":700,"v":0.3},{"k":15,"t":770,"v":1.1},{"k":15,"t":840,"v":0.2},{"k":15,"t":910,"v":0.5},{"k":15,"t":980,"v":-0.2},{"k":15,"t":1050,"v":0.3},{"k":15,"t":1120,"v":-0.1},
{"k":16,"t":-630,"v":0.2},{"k":16,"t":-560,"v":0.9},{"k":16,"t":-490,"v":0.1},{"k":16,"t":-420,"v":0.6},{"k":16,"t":-350,"v":0.3},{"k":16,"t":-280,"v":0.8},{"k":16,"t":-210,"v":-0.1},{"k":16,"t":-140,"v":0.4},{"k":16,"t":-70,"v":0.6},{"k":16,"t":0,"v":0.2},{"k":16,"t":70,"v":1.0},{"k":16,"t":140,"v":0.3},{"k":16,"t":210,"v":0.5},{"k":16,"t":280,"v":-0.4},{"k":16,"t":350,"v":0.3},{"k":16,"t":420,"v":0.8},{"k":16,"t":490,"v":-0.6},{"k":16,"t":560,"v":0.5},{"k":16,"t":630,"v":0.1},{"k":16,"t":700,"v":0.9},{"k":16,"t":770,"v":0.2},{"k":16,"t":840,"v":0.6},{"k":16,"t":910,"v":-0.3},{"k":16,"t":980,"v":0.4},{"k":16,"t":1050,"v":0.7},{"k":16,"t":1120,"v":0.1},
{"k":17,"t":-630,"v":-0.3},{"k":17,"t":-560,"v":0.2},{"k":17,"t":-490,"v":0.0},{"k":17,"t":-420,"v":0.5},{"k":17,"t":-350,"v":-0.2},{"k":17,"t":-280,"v":0.3},{"k":17,"t":-210,"v":0.8},{"k":17,"t":-140,"v":0.2},{"k":17,"t":-70,"v":0.9},{"k":17,"t":0,"v":0.4},{"k":17,"t":70,"v":0.6},{"k":17,"t":140,"v":0.1},{"k":17,"t":210,"v":0.5},{"k":17,"t":280,"v":0.3},{"k":17,"t":350,"v":0.7},{"k":17,"t":420,"v":0.0},{"k":17,"t":490,"v":0.4},{"k":17,"t":560,"v":0.2},{"k":17,"t":630,"v":0.5},{"k":17,"t":700,"v":0.3},{"k":17,"t":770,"v":0.1},{"k":17,"t":840,"v":0.4},{"k":17,"t":910,"v":0.2},{"k":17,"t":980,"v":0.3},{"k":17,"t":1050,"v":0.0},{"k":17,"t":1120,"v":0.1},
{"k":18,"t":-630,"v":-0.1},{"k":18,"t":-560,"v":0.2},{"k":18,"t":-490,"v":0.0},{"k":18,"t":-420,"v":0.4},{"k":18,"t":-350,"v":0.3},{"k":18,"t":-280,"v":0.1},{"k":18,"t":-210,"v":0.5},{"k":18,"t":-140,"v":0.3},{"k":18,"t":-70,"v":0.6},{"k":18,"t":0,"v":0.2},{"k":18,"t":70,"v":0.7},{"k":18,"t":140,"v":0.4},{"k":18,"t":210,"v":0.3},{"k":18,"t":280,"v":0.5},{"k":18,"t":350,"v":0.1},{"k":18,"t":420,"v":0.6},{"k":18,"t":490,"v":0.2},{"k":18,"t":560,"v":0.4},{"k":18,"t":630,"v":0.0},{"k":18,"t":700,"v":0.3},{"k":18,"t":770,"v":0.1},{"k":18,"t":840,"v":0.5},{"k":18,"t":910,"v":0.2},{"k":18,"t":980,"v":0.4},{"k":18,"t":1050,"v":0.0},{"k":18,"t":1120,"v":0.3},
{"k":19,"t":-630,"v":-0.2},{"k":19,"t":-560,"v":0.3},{"k":19,"t":-490,"v":0.9},{"k":19,"t":-420,"v":0.1},{"k":19,"t":-350,"v":0.6},{"k":19,"t":-280,"v":1.0},{"k":19,"t":-210,"v":0.3},{"k":19,"t":-140,"v":0.8},{"k":19,"t":-70,"v":0.4},{"k":19,"t":0,"v":0.9},{"k":19,"t":70,"v":0.2},{"k":19,"t":140,"v":0.6},{"k":19,"t":210,"v":0.0},{"k":19,"t":280,"v":0.5},{"k":19,"t":350,"v":0.3},{"k":19,"t":420,"v":0.7},{"k":19,"t":490,"v":0.1},{"k":19,"t":560,"v":0.5},{"k":19,"t":630,"v":0.3},{"k":19,"t":700,"v":0.6},{"k":19,"t":770,"v":0.2},{"k":19,"t":840,"v":0.5},{"k":19,"t":910,"v":0.0},{"k":19,"t":980,"v":0.4},{"k":19,"t":1050,"v":0.1},{"k":19,"t":1120,"v":0.3},
{"k":20,"t":-630,"v":0.3},{"k":20,"t":-560,"v":-0.4},{"k":20,"t":-490,"v":0.9},{"k":20,"t":-420,"v":-0.2},{"k":20,"t":-350,"v":0.6},{"k":20,"t":-280,"v":0.0},{"k":20,"t":-210,"v":1.2},{"k":20,"t":-140,"v":0.2},{"k":20,"t":-70,"v":0.8},{"k":20,"t":0,"v":7.2},{"k":20,"t":70,"v":3.0},{"k":20,"t":140,"v":1.4},{"k":20,"t":210,"v":2.2},{"k":20,"t":280,"v":0.6},{"k":20,"t":350,"v":1.6},{"k":20,"t":420,"v":-0.2},{"k":20,"t":490,"v":1.2},{"k":20,"t":560,"v":0.3},{"k":20,"t":630,"v":0.9},{"k":20,"t":700,"v":-0.3},{"k":20,"t":770,"v":0.8},{"k":20,"t":840,"v":0.1},{"k":20,"t":910,"v":0.5},{"k":20,"t":980,"v":-0.2},{"k":20,"t":1050,"v":1.6},{"k":20,"t":1120,"v":0.2},
{"k":21,"t":-630,"v":-0.2},{"k":21,"t":-560,"v":0.4},{"k":21,"t":-490,"v":0.0},{"k":21,"t":-420,"v":0.7},{"k":21,"t":-350,"v":0.2},{"k":21,"t":-280,"v":0.9},{"k":21,"t":-210,"v":0.3},{"k":21,"t":-140,"v":0.6},{"k":21,"t":-70,"v":0.0},{"k":21,"t":0,"v":0.8},{"k":21,"t":70,"v":0.4},{"k":21,"t":140,"v":1.0},{"k":21,"t":210,"v":0.5},{"k":21,"t":280,"v":0.6},{"k":21,"t":350,"v":0.2},{"k":21,"t":420,"v":0.9},{"k":21,"t":490,"v":0.1},{"k":21,"t":560,"v":0.5},{"k":21,"t":630,"v":0.3},{"k":21,"t":700,"v":0.7},{"k":21,"t":770,"v":0.0},{"k":21,"t":840,"v":0.4},{"k":21,"t":910,"v":0.6},{"k":21,"t":980,"v":-0.1},{"k":21,"t":1050,"v":0.3},{"k":21,"t":1120,"v":0.0},
{"k":22,"t":-630,"v":-0.3},{"k":22,"t":-560,"v":0.5},{"k":22,"t":-490,"v":-0.1},{"k":22,"t":-420,"v":0.9},{"k":22,"t":-350,"v":0.2},{"k":22,"t":-280,"v":1.0},{"k":22,"t":-210,"v":0.4},{"k":22,"t":-140,"v":0.8},{"k":22,"t":-70,"v":0.1},{"k":22,"t":0,"v":0.6},{"k":22,"t":70,"v":0.5},{"k":22,"t":140,"v":0.2},{"k":22,"t":210,"v":0.7},{"k":22,"t":280,"v":0.0},{"k":22,"t":350,"v":0.4},{"k":22,"t":420,"v":0.3},{"k":22,"t":490,"v":0.6},{"k":22,"t":560,"v":0.1},{"k":22,"t":630,"v":0.5},{"k":22,"t":700,"v":-0.1},{"k":22,"t":770,"v":0.3},{"k":22,"t":840,"v":0.4},{"k":22,"t":910,"v":0.0},{"k":22,"t":980,"v":0.2},{"k":22,"t":1050,"v":-0.2},{"k":22,"t":1120,"v":0.1},
{"k":23,"t":-630,"v":0.0},{"k":23,"t":-560,"v":-0.4},{"k":23,"t":-490,"v":0.6},{"k":23,"t":-420,"v":-0.8},{"k":23,"t":-350,"v":0.3},{"k":23,"t":-280,"v":0.5},{"k":23,"t":-210,"v":1.0},{"k":23,"t":-140,"v":0.2},{"k":23,"t":-70,"v":0.7},{"k":23,"t":0,"v":0.4},{"k":23,"t":70,"v":0.8},{"k":23,"t":140,"v":0.3},{"k":23,"t":210,"v":0.6},{"k":23,"t":280,"v":0.1},{"k":23,"t":350,"v":0.5},{"k":23,"t":420,"v":0.2},{"k":23,"t":490,"v":0.7},{"k":23,"t":560,"v":0.0},{"k":23,"t":630,"v":0.4},{"k":23,"t":700,"v":0.6},{"k":23,"t":770,"v":-0.2},{"k":23,"t":840,"v":0.5},{"k":23,"t":910,"v":0.9},{"k":23,"t":980,"v":0.1},{"k":23,"t":1050,"v":0.7},{"k":23,"t":1120,"v":0.3},
{"k":24,"t":-630,"v":-0.3},{"k":24,"t":-560,"v":0.2},{"k":24,"t":-490,"v":0.0},{"k":24,"t":-420,"v":0.5},{"k":24,"t":-350,"v":0.3},{"k":24,"t":-280,"v":0.7},{"k":24,"t":-210,"v":0.1},{"k":24,"t":-140,"v":0.6},{"k":24,"t":-70,"v":0.4},{"k":24,"t":0,"v":0.2},{"k":24,"t":70,"v":0.8},{"k":24,"t":140,"v":0.3},{"k":24,"t":210,"v":0.6},{"k":24,"t":280,"v":0.1},{"k":24,"t":350,"v":0.9},{"k":24,"t":420,"v":0.4},{"k":24,"t":490,"v":0.6},{"k":24,"t":560,"v":0.2},{"k":24,"t":630,"v":0.7},{"k":24,"t":700,"v":0.3},{"k":24,"t":770,"v":0.5},{"k":24,"t":840,"v":0.8},{"k":24,"t":910,"v":0.1},{"k":24,"t":980,"v":0.4},{"k":24,"t":1050,"v":0.2},{"k":24,"t":1120,"v":0.5}
]
},
"hconcat": [
{
"data": {"name": "L"},
"transform": [{"lookup": "k", "from": {"data": {"name": "cells"}, "key": "k", "fields": ["r", "c"]}}],
"facet": {"row": {"field": "r", "type": "ordinal", "header": null}, "column": {"field": "c", "type": "ordinal", "header": null}},
"spacing": {"row": 0, "column": 0},
"bounds": "flush",
"spec": {
"width": 71, "height": 67.5,
"resolve": {"scale": {"x": "independent", "y": "independent"}},
"layer": [
{"layer": [
{"transform": [{"filter": "isValid(datum.v)"}], "mark": {"type": "line", "strokeWidth": 1.5},
 "encoding": {"x": {"field": "t", "type": "quantitative", "scale": {"domain": [-1233.3, 1133.3], "nice": false, "zero": false}, "axis": null},
  "y": {"field": "v", "type": "quantitative", "scale": {"domain": [-6.7, 6.8], "nice": false, "zero": false}, "axis": null},
  "color": {"condition": {"test": "datum.k == 20", "value": "#e8222a"}, "value": "#4a9e27"}}},
{"transform": [{"filter": "datum.m == 1"}], "mark": {"type": "point", "shape": "triangle-up", "filled": true, "color": "#111111", "size": 12, "opacity": 1},
 "encoding": {"x": {"datum": 0, "type": "quantitative", "scale": {"domain": [-1233.3, 1133.3], "nice": false, "zero": false}, "axis": null},
  "y": {"datum": -2.8, "type": "quantitative", "scale": {"domain": [-6.7, 6.8], "nice": false, "zero": false}, "axis": null}}},
{"transform": [{"filter": "datum.k == 20 && datum.m == 1"}], "mark": {"type": "rule", "color": "#333333", "strokeWidth": 1.2},
 "encoding": {"x": {"datum": 933, "type": "quantitative", "scale": {"domain": [-1233.3, 1133.3], "nice": false, "zero": false}, "axis": null}, "x2": {"datum": 1183},
  "y": {"datum": -5.8, "type": "quantitative", "scale": {"domain": [-6.7, 6.8], "nice": false, "zero": false}, "axis": null}}},
{"transform": [{"filter": "datum.k == 20 && datum.m == 1"}], "mark": {"type": "rule", "color": "#222222", "strokeWidth": 1.5},
 "encoding": {"x": {"datum": 2433, "type": "quantitative", "scale": {"domain": [-1233.3, 1133.3], "nice": false, "zero": false}, "axis": null},
  "y": {"datum": -4, "type": "quantitative", "scale": {"domain": [-6.7, 6.8], "nice": false, "zero": false}, "axis": null}, "y2": {"datum": -9}}},
{"transform": [{"filter": "datum.k == 20 && datum.m == 1"}], "mark": {"type": "rule", "color": "#333333", "strokeWidth": 1},
 "encoding": {"x": {"datum": 2700, "type": "quantitative", "scale": {"domain": [-1233.3, 1133.3], "nice": false, "zero": false}, "axis": null}, "x2": {"datum": 3033},
  "y": {"datum": -6.4, "type": "quantitative", "scale": {"domain": [-6.7, 6.8], "nice": false, "zero": false}, "axis": null}}},
{"transform": [{"filter": "datum.k == 20 && datum.m == 1"}], "mark": {"type": "text", "text": "250", "fontSize": 13, "align": "left", "baseline": "alphabetic", "color": "#333333"},
 "encoding": {"x": {"datum": 433, "type": "quantitative", "scale": {"domain": [-1233.3, 1133.3], "nice": false, "zero": false}, "axis": null},
  "y": {"datum": -8.6, "type": "quantitative", "scale": {"domain": [-6.7, 6.8], "nice": false, "zero": false}, "axis": null}}},
{"transform": [{"filter": "datum.k == 20 && datum.m == 1"}], "mark": {"type": "text", "text": "ms", "fontSize": 13, "align": "left", "baseline": "alphabetic", "color": "#333333"},
 "encoding": {"x": {"datum": 1200, "type": "quantitative", "scale": {"domain": [-1233.3, 1133.3], "nice": false, "zero": false}, "axis": null},
  "y": {"datum": -8.6, "type": "quantitative", "scale": {"domain": [-6.7, 6.8], "nice": false, "zero": false}, "axis": null}}},
{"transform": [{"filter": "datum.k == 20 && datum.m == 1"}], "mark": {"type": "text", "text": "dF", "fontSize": 11, "align": "center", "baseline": "alphabetic", "color": "#333333"},
 "encoding": {"x": {"datum": 2867, "type": "quantitative", "scale": {"domain": [-1233.3, 1133.3], "nice": false, "zero": false}, "axis": null},
  "y": {"datum": -6.0, "type": "quantitative", "scale": {"domain": [-6.7, 6.8], "nice": false, "zero": false}, "axis": null}}},
{"transform": [{"filter": "datum.k == 20 && datum.m == 1"}], "mark": {"type": "text", "text": "F", "fontSize": 11, "align": "center", "baseline": "alphabetic", "color": "#333333"},
 "encoding": {"x": {"datum": 2867, "type": "quantitative", "scale": {"domain": [-1233.3, 1133.3], "nice": false, "zero": false}, "axis": null},
  "y": {"datum": -8.8, "type": "quantitative", "scale": {"domain": [-6.7, 6.8], "nice": false, "zero": false}, "axis": null}}},
{"transform": [{"filter": "datum.k == 20 && datum.m == 1"}], "mark": {"type": "text", "text": "= 5%", "fontSize": 13, "align": "left", "baseline": "alphabetic", "color": "#333333"},
 "encoding": {"x": {"datum": 3100, "type": "quantitative", "scale": {"domain": [-1233.3, 1133.3], "nice": false, "zero": false}, "axis": null},
  "y": {"datum": -7.4, "type": "quantitative", "scale": {"domain": [-6.7, 6.8], "nice": false, "zero": false}, "axis": null}}}
]},
{"transform": [{"filter": "datum.lab"}], "mark": {"type": "text", "fontSize": 22, "align": "left", "baseline": "alphabetic", "color": "#a3a3a3"},
 "encoding": {"x": {"field": "c", "type": "quantitative", "scale": {"domain": [0, 1, 2, 3, 4], "range": [5, 12, 14, 13, 14], "nice": false, "zero": false}, "axis": null},
  "y": {"field": "r", "type": "quantitative", "scale": {"domain": [0, 1, 2, 3, 4], "range": [27, 24.5, 18, 37.5, 21], "nice": false, "zero": false}, "axis": null},
  "text": {"field": "lab"}}},
{"transform": [{"filter": "datum.sub"}], "mark": {"type": "text", "fontSize": 15, "align": "left", "baseline": "alphabetic", "color": "#a3a3a3", "dx": 13, "dy": 6},
 "encoding": {"x": {"field": "c", "type": "quantitative", "scale": {"domain": [0, 1, 2, 3, 4], "range": [5, 12, 14, 13, 14], "nice": false, "zero": false}, "axis": null},
  "y": {"field": "r", "type": "quantitative", "scale": {"domain": [0, 1, 2, 3, 4], "range": [27, 24.5, 18, 37.5, 21], "nice": false, "zero": false}, "axis": null},
  "text": {"field": "sub"}}}
]
}
},
{
"data": {"name": "R"},
"transform": [{"lookup": "k", "from": {"data": {"name": "cells"}, "key": "k", "fields": ["r", "c"]}}],
"facet": {"row": {"field": "r", "type": "ordinal", "header": null}, "column": {"field": "c", "type": "ordinal", "header": null}},
"spacing": {"row": 0, "column": 0},
"bounds": "flush",
"spec": {
"width": 71, "height": 67.5,
"resolve": {"scale": {"x": "independent", "y": "independent"}},
"layer": [
{"layer": [
{"transform": [{"filter": "isValid(datum.v)"}], "mark": {"type": "line", "strokeWidth": 1.5},
 "encoding": {"x": {"field": "t", "type": "quantitative", "scale": {"domain": [-1233.3, 1133.3], "nice": false, "zero": false}, "axis": null},
  "y": {"field": "v", "type": "quantitative", "scale": {"domain": [-6.7, 6.8], "nice": false, "zero": false}, "axis": null},
  "color": {"condition": {"test": "datum.k == 20", "value": "#e8222a"}, "value": "#4a9e27"}}},
{"transform": [{"filter": "datum.m == 1"}], "mark": {"type": "point", "shape": "triangle-up", "filled": true, "color": "#111111", "size": 12, "opacity": 1},
 "encoding": {"x": {"datum": 0, "type": "quantitative", "scale": {"domain": [-1233.3, 1133.3], "nice": false, "zero": false}, "axis": null},
  "y": {"datum": -2.8, "type": "quantitative", "scale": {"domain": [-6.7, 6.8], "nice": false, "zero": false}, "axis": null}}},
{"transform": [{"filter": "datum.k == 20 && datum.m == 1"}], "mark": {"type": "rule", "color": "#333333", "strokeWidth": 1.2},
 "encoding": {"x": {"datum": 567, "type": "quantitative", "scale": {"domain": [-1233.3, 1133.3], "nice": false, "zero": false}, "axis": null}, "x2": {"datum": 817},
  "y": {"datum": -5.8, "type": "quantitative", "scale": {"domain": [-6.7, 6.8], "nice": false, "zero": false}, "axis": null}}},
{"transform": [{"filter": "datum.k == 20 && datum.m == 1"}], "mark": {"type": "rule", "color": "#222222", "strokeWidth": 1.5},
 "encoding": {"x": {"datum": 1967, "type": "quantitative", "scale": {"domain": [-1233.3, 1133.3], "nice": false, "zero": false}, "axis": null},
  "y": {"datum": -4, "type": "quantitative", "scale": {"domain": [-6.7, 6.8], "nice": false, "zero": false}, "axis": null}, "y2": {"datum": -9}}},
{"transform": [{"filter": "datum.k == 20 && datum.m == 1"}], "mark": {"type": "rule", "color": "#333333", "strokeWidth": 1},
 "encoding": {"x": {"datum": 2167, "type": "quantitative", "scale": {"domain": [-1233.3, 1133.3], "nice": false, "zero": false}, "axis": null}, "x2": {"datum": 2500},
  "y": {"datum": -6.4, "type": "quantitative", "scale": {"domain": [-6.7, 6.8], "nice": false, "zero": false}, "axis": null}}},
{"transform": [{"filter": "datum.k == 20 && datum.m == 1"}], "mark": {"type": "text", "text": "250", "fontSize": 13, "align": "left", "baseline": "alphabetic", "color": "#333333"},
 "encoding": {"x": {"datum": 67, "type": "quantitative", "scale": {"domain": [-1233.3, 1133.3], "nice": false, "zero": false}, "axis": null},
  "y": {"datum": -8.6, "type": "quantitative", "scale": {"domain": [-6.7, 6.8], "nice": false, "zero": false}, "axis": null}}},
{"transform": [{"filter": "datum.k == 20 && datum.m == 1"}], "mark": {"type": "text", "text": "ms", "fontSize": 13, "align": "left", "baseline": "alphabetic", "color": "#333333"},
 "encoding": {"x": {"datum": 833, "type": "quantitative", "scale": {"domain": [-1233.3, 1133.3], "nice": false, "zero": false}, "axis": null},
  "y": {"datum": -8.6, "type": "quantitative", "scale": {"domain": [-6.7, 6.8], "nice": false, "zero": false}, "axis": null}}},
{"transform": [{"filter": "datum.k == 20 && datum.m == 1"}], "mark": {"type": "text", "text": "dF", "fontSize": 11, "align": "center", "baseline": "alphabetic", "color": "#333333"},
 "encoding": {"x": {"datum": 2333, "type": "quantitative", "scale": {"domain": [-1233.3, 1133.3], "nice": false, "zero": false}, "axis": null},
  "y": {"datum": -6.0, "type": "quantitative", "scale": {"domain": [-6.7, 6.8], "nice": false, "zero": false}, "axis": null}}},
{"transform": [{"filter": "datum.k == 20 && datum.m == 1"}], "mark": {"type": "text", "text": "F", "fontSize": 11, "align": "center", "baseline": "alphabetic", "color": "#333333"},
 "encoding": {"x": {"datum": 2333, "type": "quantitative", "scale": {"domain": [-1233.3, 1133.3], "nice": false, "zero": false}, "axis": null},
  "y": {"datum": -8.8, "type": "quantitative", "scale": {"domain": [-6.7, 6.8], "nice": false, "zero": false}, "axis": null}}},
{"transform": [{"filter": "datum.k == 20 && datum.m == 1"}], "mark": {"type": "text", "text": "= 5%", "fontSize": 13, "align": "left", "baseline": "alphabetic", "color": "#333333"},
 "encoding": {"x": {"datum": 2667, "type": "quantitative", "scale": {"domain": [-1233.3, 1133.3], "nice": false, "zero": false}, "axis": null},
  "y": {"datum": -7.4, "type": "quantitative", "scale": {"domain": [-6.7, 6.8], "nice": false, "zero": false}, "axis": null}}}
]},
{"transform": [{"filter": "datum.lab"}], "mark": {"type": "text", "fontSize": 22, "align": "left", "baseline": "alphabetic", "color": "#a3a3a3"},
 "encoding": {"x": {"field": "c", "type": "quantitative", "scale": {"domain": [0, 1, 2, 3, 4], "range": [11, 11, 14, 13, 17], "nice": false, "zero": false}, "axis": null},
  "y": {"field": "r", "type": "quantitative", "scale": {"domain": [0, 1, 2, 3, 4], "range": [25, 22.5, 17, 28, 20], "nice": false, "zero": false}, "axis": null},
  "text": {"field": "lab"}}},
{"transform": [{"filter": "datum.sub"}], "mark": {"type": "text", "fontSize": 15, "align": "left", "baseline": "alphabetic", "color": "#a3a3a3", "dx": 13, "dy": 6},
 "encoding": {"x": {"field": "c", "type": "quantitative", "scale": {"domain": [0, 1, 2, 3, 4], "range": [11, 11, 14, 13, 17], "nice": false, "zero": false}, "axis": null},
  "y": {"field": "r", "type": "quantitative", "scale": {"domain": [0, 1, 2, 3, 4], "range": [25, 22.5, 17, 28, 20], "nice": false, "zero": false}, "axis": null},
  "text": {"field": "sub"}}}
]
}
}
],
"spacing": 51
}
